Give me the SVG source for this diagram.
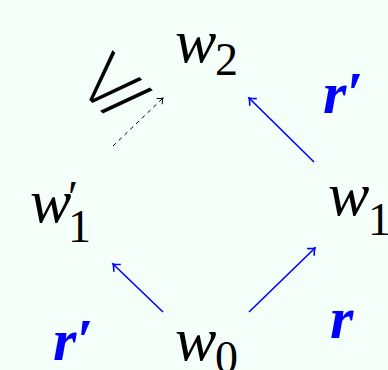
<svg xmlns="http://www.w3.org/2000/svg" width="388" height="370" viewBox="0 0 388 370">
<defs>
<style>
.w{font-family:"Liberation Serif",serif;font-style:italic;font-size:62px;fill:#000}
.s{font-family:"Liberation Serif",serif;font-size:46px;fill:#000}
.r{font-family:"Liberation Serif",serif;font-style:italic;font-weight:bold;font-size:60px;fill:#0000ff}
.b{stroke:#0000ff;stroke-width:1.6;fill:none}
.d{stroke:#000;stroke-width:1;stroke-dasharray:4 4;fill:none}
</style>
<marker id="ab" markerWidth="12" markerHeight="12" refX="0" refY="0" viewBox="-8 -6 10 12" orient="auto" markerUnits="userSpaceOnUse">
<path d="M-6,-5 Q-2,-1 0,0 Q-2,1 -6,5" stroke="#0000ff" stroke-width="1.6" fill="none"/>
</marker>
<marker id="ak" markerWidth="12" markerHeight="12" refX="0" refY="0" viewBox="-8 -6 10 12" orient="auto" markerUnits="userSpaceOnUse">
<path d="M-5,-4 Q-2,-1 0,0 Q-2,1 -5,4" stroke="#000" stroke-width="1" fill="none"/>
</marker>
</defs>
<rect width="388" height="370" fill="#f5fffa"/>
<g id="connectors">
<line class="b" x1="249" y1="312" x2="315" y2="248" marker-end="url(#ab)"/>
<line class="b" x1="163" y1="312" x2="113" y2="264" marker-end="url(#ab)"/>
<line class="b" x1="314" y1="162" x2="249" y2="98" marker-end="url(#ab)"/>
<line class="d" x1="113" y1="146" x2="163" y2="98" marker-end="url(#ak)"/>
</g>
<g id="w2"><text class="w" x="175" y="62">w</text><text class="s" x="215" y="75">2</text></g>
<g id="w1p"><text class="w" x="30" y="222">w</text><text class="s" x="68" y="213">′</text><text class="s" x="68" y="242">1</text></g>
<g id="w1"><text class="w" x="328" y="215">w</text><text class="s" x="368" y="235">1</text></g>
<g id="w0"><text class="w" x="175" y="360">w</text><text class="s" x="215" y="373">0</text></g>
<g id="labels">
<text class="r" x="323" y="113">r′</text>
<text class="r" x="53" y="360">r′</text>
<text class="r" x="330" y="338">r</text>
</g>
<text x="107" y="81" font-family="DejaVu Sans,sans-serif" font-size="88" text-anchor="middle" dominant-baseline="central" stroke="#f5fffa" stroke-width="3.5" transform="rotate(-45 107 81)">⩽</text>
</svg>
